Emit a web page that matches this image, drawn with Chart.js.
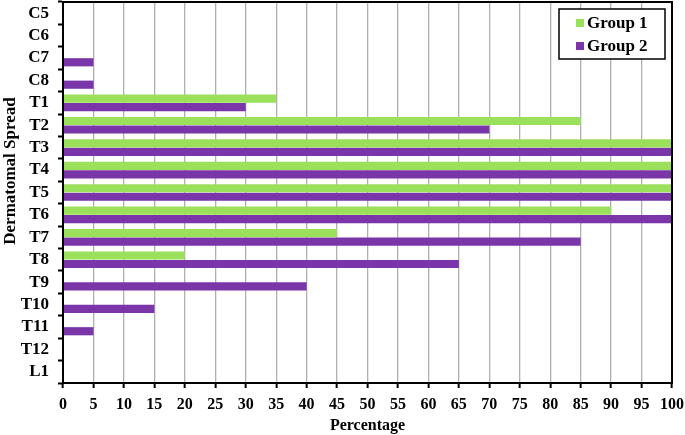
<!DOCTYPE html>
<html>
<head>
<meta charset="utf-8">
<script src="https://cdn.jsdelivr.net/npm/chart.js@4"></script>
<style>
  html, body { margin: 0; padding: 0; background: #fff; }
  #wrap { width: 685px; height: 435px; }
</style>
</head>
<body>
<div id="wrap"><canvas id="spreadChart" width="685" height="435"></canvas></div>
<script>
// dermatome levels, top to bottom
const levels = ['C5', 'C6', 'C7', 'C8', 'T1', 'T2', 'T3', 'T4', 'T5', 'T6', 'T7', 'T8', 'T9', 'T10', 'T11', 'T12', 'L1'];
const group1 = [0, 0, 0, 0, 35, 85, 100, 100, 100, 90, 45, 20, 0, 0, 0, 0, 0];
const group2 = [0, 0, 5, 5, 30, 70, 100, 100, 100, 100, 85, 65, 40, 15, 5, 0, 0];
const seriesNames = ['Group 1', 'Group 2'];
const seriesColors = ['#9BE05B', '#7A35A8'];

const serif = '"Liberation Serif", "Times New Roman", serif';

// frame around the plot, y title, legend box inside the top right corner
const framePlugin = {
    id: 'frame',
    afterDraw(chart) {
        const { ctx, chartArea: a } = chart;
        ctx.save();
        ctx.strokeStyle = '#000';
        ctx.lineWidth = 2;
        ctx.strokeRect(a.left, a.top, a.right - a.left, a.bottom - a.top);

        // y axis title (sits a bit above the middle in the original)
        ctx.save();
        ctx.translate(11, 171);
        ctx.rotate(-Math.PI / 2);
        ctx.fillStyle = '#000';
        ctx.font = 'bold 17px ' + serif;
        ctx.textAlign = 'center';
        ctx.textBaseline = 'middle';
        ctx.fillText('Dermatomal Spread', 0, 0);
        ctx.restore();

        // legend
        const bx = 559, by = 9, bw = 106, bh = 50;
        ctx.fillStyle = '#fff';
        ctx.fillRect(bx, by, bw, bh);
        ctx.lineWidth = 1.5;
        ctx.strokeRect(bx, by, bw, bh);
        ctx.font = 'bold 17px ' + serif;
        ctx.textBaseline = 'middle';
        seriesNames.forEach((name, i) => {
            const y = by + 14 + i * 23;
            ctx.fillStyle = seriesColors[i];
            ctx.fillRect(bx + 17, y - 4, 8, 8);
            ctx.fillStyle = '#000';
            ctx.fillText(name, bx + 28, y + 1);
        });
        ctx.restore();
    }
};

new Chart(document.getElementById('spreadChart').getContext('2d'), {
    type: 'bar',
    data: {
        labels: levels,
        datasets: [{
            label: seriesNames[0],
            data: group1,
            backgroundColor: seriesColors[0],
            categoryPercentage: 0.76,
            barPercentage: 0.96
        }, {
            label: seriesNames[1],
            data: group2,
            backgroundColor: seriesColors[1],
            categoryPercentage: 0.76,
            barPercentage: 0.96
        }]
    },
    options: {
        indexAxis: 'y',
        responsive: false,
        animation: false,
        layout: { padding: { top: 2, right: 13, bottom: 0, left: 0 } },
        plugins: {
            legend: { display: false },
            tooltip: { enabled: false }
        },
        scales: {
            x: {
                min: 0,
                max: 100,
                ticks: {
                    stepSize: 5,
                    color: '#000',
                    padding: 7,
                    maxRotation: 0,
                    autoSkip: false,
                    font: { family: serif, size: 16, weight: 'bold' }
                },
                grid: { color: '#b0b0b0', lineWidth: 1.3, tickColor: '#000', tickLength: 5, tickWidth: 2 },
                border: { color: '#000', width: 2 },
                title: {
                    display: true,
                    text: 'Percentage',
                    color: '#000',
                    padding: { top: 0, bottom: 0 },
                    font: { family: serif, size: 16, weight: 'bold' }
                },
                afterFit(scale) {
                    scale.height = 52;
                    scale.paddingLeft = 0;
                    scale.paddingRight = 0;
                }
            },
            y: {
                ticks: {
                    color: '#000',
                    padding: 9,
                    autoSkip: false,
                    font: { family: serif, size: 17, weight: 'bold' }
                },
                grid: { offset: true, drawOnChartArea: false, tickColor: '#000', tickLength: 5, tickWidth: 2 },
                border: { color: '#000', width: 2 },
                afterFit(scale) {
                    scale.width = 63;
                    scale.paddingTop = 0;
                    scale.paddingBottom = 0;
                }
            }
        }
    },
    plugins: [framePlugin]
});
</script>
</body>
</html>
